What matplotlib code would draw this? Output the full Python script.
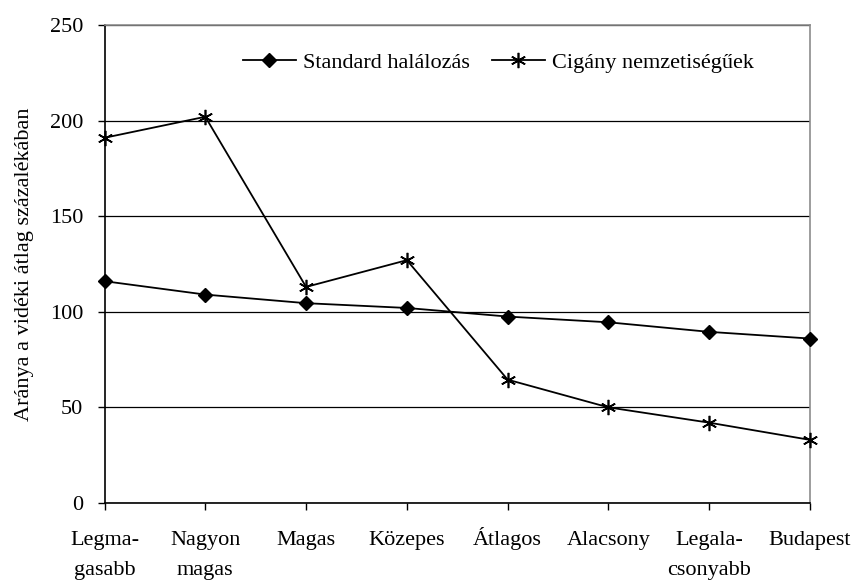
import numpy as np
import matplotlib
matplotlib.use('Agg')
import matplotlib.pyplot as plt
from matplotlib.transforms import offset_copy

plt.rcParams['font.family'] = ['Liberation Serif', 'DejaVu Serif']

kategoriak = ['Legma-\ngasabb', 'Nagyon\nmagas', 'Magas', 'Közepes', 'Átlagos',
              'Alacsony', 'Legala-\ncsonyabb', 'Budapest']
standard = [116, 109, 104.5, 102, 97.5, 94.5, 89.5, 86]
cigany = [191, 202, 113, 127, 64.5, 50, 42, 33]

fig = plt.figure(figsize=[8.58, 5.8], dpi=100)
ax = fig.add_axes([0.1218, 0.1328, 0.8223, 0.8241])

x = np.arange(len(kategoriak))
ax.plot(x, standard, color='black', lw=1.3, marker='D', markersize=6.8,
        label='Standard halálozás', clip_on=False, zorder=3)
ax.plot(x, cigany, color='black', lw=1.3, marker=(6, 2, 0), markersize=11,
        markeredgewidth=1.2, label='Cigány nemzetiségűek', clip_on=False, zorder=3)

ax.set_xlim(0, len(kategoriak) - 1)
ax.set_ylim(0, 250)
ax.set_yticks(np.arange(0, 251, 50))
ax.set_xticks(x)
ax.set_xticklabels([])
ax.tick_params(axis='y', labelsize=16, direction='out', length=5.4, width=1, pad=10)
ax.tick_params(axis='x', direction='out', length=5.2, width=1)
ax.grid(axis='y', color='black', lw=0.9)
ax.set_axisbelow(True)

# kategória feliratok soronként, alapvonalra igazítva (az Á ne tolja le)
tr1 = offset_copy(ax.get_xaxis_transform(), fig=fig, y=-42, units='dots')
tr2 = offset_copy(ax.get_xaxis_transform(), fig=fig, y=-72, units='dots')
for i, lab in enumerate(kategoriak):
    sorok = lab.split('\n')
    ax.text(i, 0, sorok[0], transform=tr1, ha='center', va='baseline',
            fontsize=16, clip_on=False)
    if len(sorok) > 1:
        ax.text(i, 0, sorok[1], transform=tr2, ha='center', va='baseline',
                fontsize=16, clip_on=False)

for s in ['top', 'right']:
    ax.spines[s].set_color('#8c8c8c')
    ax.spines[s].set_linewidth(1.2)
for s in ['left', 'bottom']:
    ax.spines[s].set_linewidth(1.2)

ax.set_ylabel('Aránya a vidéki átlag százalékában', fontsize=16)
ax.yaxis.set_label_coords(-0.1, 0.5)

leg = ax.legend(loc='upper right', bbox_to_anchor=(0.942, 0.975), ncol=2,
                frameon=False, fontsize=16, handlelength=2.4,
                handletextpad=0.3, columnspacing=1.0, borderaxespad=0.3)

fig.savefig('out.png', dpi=100, facecolor='white')
